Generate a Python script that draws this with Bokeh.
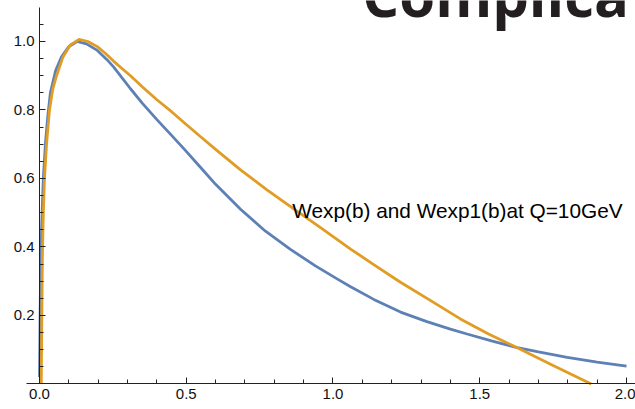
from bokeh.plotting import figure
from bokeh.models import Label, Range1d, FixedTicker, PrintfTickFormatter
from bokeh.embed import file_html
from bokeh.resources import INLINE

# Wexp(b) (blue)
b_wexp = [0.000, 0.002, 0.004, 0.007, 0.010, 0.013, 0.020, 0.028, 0.037, 0.055,
          0.075, 0.100, 0.128, 0.160, 0.197, 0.230, 0.253, 0.280, 0.310, 0.350,
          0.400, 0.450, 0.497, 0.549, 0.600, 0.685, 0.770, 0.855, 0.940, 1.014,
          1.060, 1.139, 1.230, 1.320, 1.400, 1.457, 1.540, 1.628, 1.700, 1.798,
          1.900, 2.000]
wexp = [0.020, 0.200, 0.330, 0.450, 0.530, 0.600, 0.700, 0.780, 0.850, 0.915,
        0.955, 0.985, 1.000, 0.993, 0.974, 0.947, 0.925, 0.895, 0.862, 0.820,
        0.772, 0.726, 0.682, 0.632, 0.583, 0.510, 0.446, 0.393, 0.345, 0.307,
        0.284, 0.247, 0.210, 0.182, 0.160, 0.146, 0.126, 0.106, 0.094, 0.078,
        0.064, 0.052]

# Wexp1(b) (orange)
b_wexp1 = [0.006, 0.007, 0.008, 0.010, 0.013, 0.017, 0.024, 0.034, 0.045, 0.058,
           0.080, 0.105, 0.135, 0.165, 0.197, 0.225, 0.253, 0.280, 0.310, 0.350,
           0.400, 0.450, 0.497, 0.549, 0.600, 0.685, 0.775, 0.865, 0.960, 1.060,
           1.140, 1.230, 1.330, 1.434, 1.530, 1.628, 1.750, 1.880]
wexp1 = [0.000, 0.100, 0.200, 0.380, 0.500, 0.600, 0.700, 0.800, 0.860, 0.900,
         0.955, 0.990, 1.006, 1.000, 0.985, 0.965, 0.942, 0.922, 0.900, 0.868,
         0.830, 0.795, 0.760, 0.722, 0.685, 0.625, 0.567, 0.512, 0.455, 0.394,
         0.348, 0.297, 0.245, 0.190, 0.146, 0.106, 0.054, 0.000]

x_ticks = [0.0, 0.5, 1.0, 1.5, 2.0]
x_minor = [0.1, 0.2, 0.3, 0.4, 0.6, 0.7, 0.8, 0.9, 1.1, 1.2, 1.3, 1.4,
           1.6, 1.7, 1.8, 1.9]
y_ticks = [0.2, 0.4, 0.6, 0.8, 1.0]
y_minor = [0.05, 0.1, 0.15, 0.25, 0.3, 0.35, 0.45, 0.5, 0.55, 0.65, 0.7,
           0.75, 0.85, 0.9, 0.95, 1.05]

note_text = "Wexp(b) and Wexp1(b)at Q=10GeV"
title_text = "Complica"

BLUE = "#5E81B5"
ORANGE = "#E19C24"
AX = "#222222"

p = figure(width=635, height=409, output_backend="svg", toolbar_location=None,
           x_range=Range1d(-0.1329, 2.0307), y_range=Range1d(-0.0745, 1.1197),
           min_border=0)
p.outline_line_color = None
p.grid.visible = False
p.background_fill_color = "white"

p.line(b_wexp, wexp, line_color=BLUE, line_width=2.8)
p.line(b_wexp1, wexp1, line_color=ORANGE, line_width=2.8)

for ax, ticks, minor in ((p.xaxis[0], x_ticks, x_minor), (p.yaxis[0], y_ticks, y_minor)):
    ax.fixed_location = 0
    ax.ticker = FixedTicker(ticks=ticks, minor_ticks=minor)
    ax.formatter = PrintfTickFormatter(format="%.1f")
    ax.axis_line_color = AX
    ax.axis_line_width = 1
    ax.major_tick_line_color = AX
    ax.minor_tick_line_color = AX
    ax.major_tick_in = 6
    ax.major_tick_out = 0
    ax.minor_tick_in = 4
    ax.minor_tick_out = 0
    ax.major_label_text_font = "Liberation Sans"
    ax.major_label_text_font_size = "15px"
    ax.major_label_text_color = "#111111"
    ax.major_label_standoff = 5

p.xaxis.bounds = (-0.045, 2.04)
p.yaxis.bounds = (0, 1.1)

p.add_layout(Label(x=0.861, y=0.506, text=note_text, text_font="Liberation Sans",
                   text_font_size="20.8px", text_color="#000000",
                   text_baseline="alphabetic", text_align="left"))
p.add_layout(Label(x=1.100, y=1.137, text=title_text, text_font="Open Sans",
                   text_font_style="bold", text_font_size="58px",
                   text_color="#231f20", text_baseline="alphabetic",
                   text_align="left"))

open("out.html", "w").write(file_html(p, INLINE))
